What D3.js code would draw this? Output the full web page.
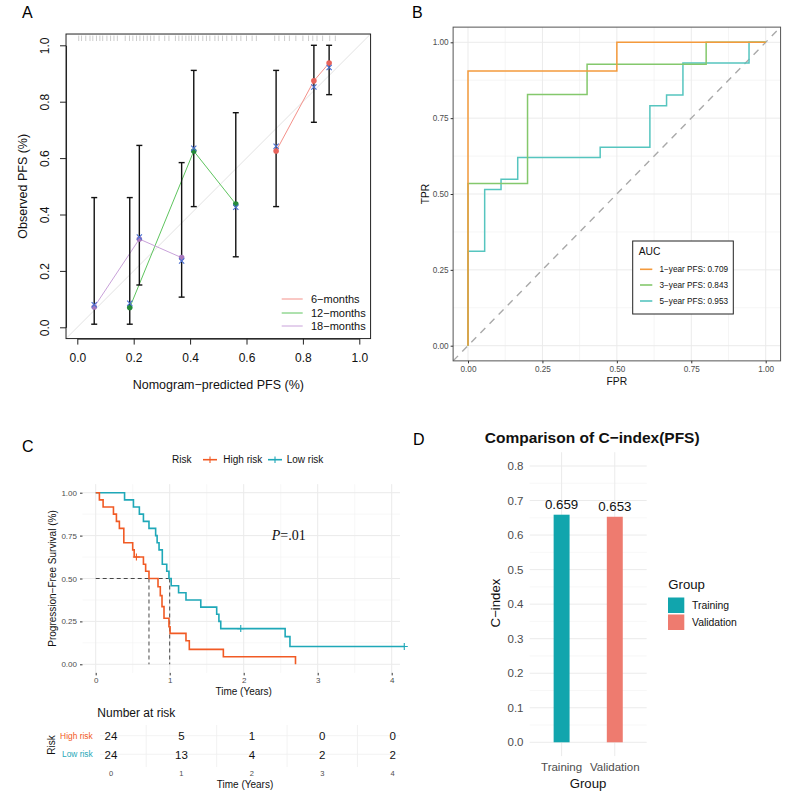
<!DOCTYPE html>
<html><head><meta charset="utf-8">
<script src="https://cdn.jsdelivr.net/npm/d3@7"></script>
<style>body{margin:0;background:#fff} svg text{font-family:"Liberation Sans",Arial,Helvetica,sans-serif} svg text.serif{font-family:"Liberation Serif","Times New Roman",serif}</style>
</head><body>
<svg id="c" width="800" height="797" xmlns="http://www.w3.org/2000/svg"></svg>
<script>
// ---------------- DATA ----------------
// Panel A: calibration
const calLabels = ["6-months", "12-months", "18-months"];
const calPred6 = [0.705, 0.839, 0.893];
const calObs6 = [0.625, 0.874, 0.937];
const calCorr6 = [0.642, 0.852, 0.921];
const calLo6 = [0.428, 0.727, 0.825];
const calHi6 = [0.911, 1.0, 1.0];
const calPred12 = [0.186, 0.413, 0.562];
const calObs12 = [0.070, 0.625, 0.437];
const calCorr12 = [0.085, 0.635, 0.426];
const calLo12 = [0.011, 0.428, 0.250];
const calHi12 = [0.460, 0.911, 0.761];
const calPred18 = [0.060, 0.220, 0.370];
const calObs18 = [0.072, 0.313, 0.247];
const calCorr18 = [0.080, 0.320, 0.235];
const calLo18 = [0.011, 0.150, 0.107];
const calHi18 = [0.460, 0.645, 0.584];
const rugPred = [0.005,0.015,0.03,0.045,0.055,0.068,0.08,0.09,0.105,0.118,0.13,0.142,0.17,0.185,0.197,0.21,0.222,0.235,0.248,0.26,0.272,0.29,0.31,0.325,0.348,0.36,0.372,0.385,0.396,0.405,0.418,0.43,0.445,0.458,0.47,0.488,0.5,0.515,0.53,0.548,0.565,0.58,0.6,0.62,0.635,0.7,0.715,0.735,0.752,0.775,0.8,0.82,0.835,0.85,0.87,0.895,0.915];
const calAxisTicks = [0, 0.2, 0.4, 0.6, 0.8, 1.0];

// Panel B: ROC
const rocLabels = ["1-year PFS: 0.709", "3-year PFS: 0.843", "5-year PFS: 0.953"];
const rocFPR1 = [0, 0, 0.5, 0.5, 1];
const rocTPR1 = [0, 0.905, 0.905, 1, 1];
const rocFPR3 = [0, 0, 0.2, 0.2, 0.4, 0.4, 0.8, 0.8, 1];
const rocTPR3 = [0, 0.535, 0.535, 0.828, 0.828, 0.928, 0.928, 1, 1];
const rocFPR5 = [0, 0, 0.056, 0.056, 0.111, 0.111, 0.167, 0.167, 0.444, 0.444, 0.611, 0.611, 0.667, 0.667, 0.722, 0.722, 0.944, 0.944, 1];
const rocTPR5 = [0, 0.311, 0.311, 0.515, 0.515, 0.549, 0.549, 0.62, 0.62, 0.654, 0.654, 0.791, 0.791, 0.826, 0.826, 0.932, 0.932, 1, 1];
const rocTicks = [0, 0.25, 0.5, 0.75, 1];

// Panel C: Kaplan-Meier
const kmHighT = [0, 0.05, 0.10, 0.24, 0.28, 0.32, 0.38, 0.50, 0.52, 0.645, 0.675, 0.72, 0.842, 0.873, 0.896, 0.923, 0.99, 1.005, 1.22, 1.265, 1.725, 2.70];
const kmHighS = [1, 0.958, 0.917, 0.875, 0.833, 0.792, 0.708, 0.667, 0.625, 0.583, 0.542, 0.5, 0.452, 0.40, 0.336, 0.268, 0.219, 0.18, 0.137, 0.087, 0.044, 0];
const kmHighCensT = [0.55];
const kmHighCensS = [0.625];
const kmLowT = [0, 0.39, 0.51, 0.59, 0.645, 0.72, 0.81, 0.83, 0.856, 0.90, 0.96, 0.99, 1.02, 1.12, 1.22, 1.42, 1.635, 1.665, 1.69, 2.56, 2.625, 4.17];
const kmLowS = [1, 0.958, 0.917, 0.875, 0.833, 0.792, 0.75, 0.708, 0.667, 0.583, 0.542, 0.5, 0.458, 0.417, 0.375, 0.333, 0.292, 0.25, 0.208, 0.161, 0.104, 0.104];
const kmLowCensT = [1.96, 4.17];
const kmLowCensS = [0.208, 0.104];
const kmMedians = [0.72, 1.0];
const kmTimeTicks = [0, 1, 2, 3, 4];
const kmSurvTicks = [0, 0.25, 0.5, 0.75, 1];
const riskGroups = ["High risk", "Low risk"];
const riskTimes = [0, 1, 2, 3, 4];
const riskHigh = [24, 5, 1, 0, 0];
const riskLow = [24, 13, 4, 2, 2];

// Panel D: C-index
const cGroups = ["Training", "Validation"];
const cIndex = [0.659, 0.653];
const cTicks = [0, 0.1, 0.2, 0.3, 0.4, 0.5, 0.6, 0.7, 0.8];

// ---------------- DRAW ----------------
const FONT = '"Liberation Sans", Arial, Helvetica, sans-serif';
const svg = d3.select("#c");
svg.append("rect").attr("width", 800).attr("height", 797).attr("fill", "#fff");

function styleAxis(g, size, color, lineColor) {
  g.attr("font-family", FONT);
  g.selectAll("text").attr("font-size", size).attr("fill", color);
  g.selectAll("line").attr("stroke", lineColor);
  g.selectAll("path").attr("stroke", lineColor);
}

// Panel labels
[["A", 22, 17.5], ["B", 412, 17.5], ["C", 22, 451.5], ["D", 413, 445]].forEach(([t, x, y]) =>
  svg.append("text").attr("x", x).attr("y", y).attr("font-size", 16).attr("fill", "#000").text(t));

// ===== Panel A =====
(function () {
  const g = svg.append("g");
  const x = d3.scaleLinear().domain([0, 1]).range([77.3, 359.3]);
  const y = d3.scaleLinear().domain([0, 1]).range([327.3, 45.3]);
  const bx0 = x(-0.04), bx1 = x(1.04), by0 = y(1.04), by1 = y(-0.04);
  svg.append("clipPath").attr("id", "clipA").append("rect")
    .attr("x", bx0).attr("y", by0).attr("width", bx1 - bx0).attr("height", by1 - by0);

  g.append("line").attr("clip-path", "url(#clipA)")
    .attr("x1", x(-0.04)).attr("y1", y(-0.04)).attr("x2", x(1.04)).attr("y2", y(1.04))
    .attr("stroke", "#e2e2e2").attr("stroke-width", 1);

  g.selectAll(".rug").data(rugPred).join("line")
    .attr("x1", d => x(d)).attr("x2", d => x(d)).attr("y1", by0 + 1.5).attr("y2", by0 + 7)
    .attr("stroke", "#aaa").attr("stroke-width", 0.6);

  const sets = [
    { p: calPred6, o: calObs6, c: calCorr6, lo: calLo6, hi: calHi6, line: "#F4918A", pt: "#E8635B" },
    { p: calPred12, o: calObs12, c: calCorr12, lo: calLo12, hi: calHi12, line: "#5EC45E", pt: "#238B3A" },
    { p: calPred18, o: calObs18, c: calCorr18, lo: calLo18, hi: calHi18, line: "#C9A2DA", pt: "#A777BD" }
  ];
  const ln = d3.line().x(d => x(d[0])).y(d => y(d[1]));
  sets.forEach(s => {
    g.append("path").attr("d", ln(s.p.map((v, i) => [v, s.o[i]])))
      .attr("fill", "none").attr("stroke", s.line).attr("stroke-width", 1);
  });
  sets.forEach(s => {
    s.p.forEach((v, i) => {
      const xx = x(v);
      g.append("line").attr("x1", xx).attr("x2", xx).attr("y1", y(s.lo[i])).attr("y2", y(s.hi[i]))
        .attr("stroke", "#111").attr("stroke-width", 1.4);
      [s.lo[i], s.hi[i]].forEach(e => g.append("line").attr("x1", xx - 3).attr("x2", xx + 3)
        .attr("y1", y(e)).attr("y2", y(e)).attr("stroke", "#111").attr("stroke-width", 1.4));
    });
  });
  sets.forEach(s => {
    s.p.forEach((v, i) => {
      g.append("circle").attr("cx", x(v)).attr("cy", y(s.o[i])).attr("r", 2.8).attr("fill", s.pt);
      const cx = x(v), cy = y(s.c[i]), r = 2.6;
      g.append("path").attr("d", `M${cx - r},${cy - r}L${cx + r},${cy + r}M${cx - r},${cy + r}L${cx + r},${cy - r}`)
        .attr("stroke", "#4A6FD1").attr("stroke-width", 1.1).attr("fill", "none");
    });
  });

  g.append("rect").attr("x", bx0).attr("y", by0).attr("width", bx1 - bx0).attr("height", by1 - by0)
    .attr("fill", "none").attr("stroke", "#222").attr("stroke-width", 1);

  g.append("g").attr("transform", `translate(0,${by1})`)
    .call(d3.axisBottom(x).tickValues(calAxisTicks).tickFormat(d3.format(".1f")).tickSize(6).tickPadding(9).tickSizeOuter(0))
    .call(a => styleAxis(a, 12, "#111", "#222"));
  g.append("g").attr("transform", `translate(${bx0},0)`)
    .call(d3.axisLeft(y).tickValues(calAxisTicks).tickFormat(d3.format(".1f")).tickSize(6).tickSizeOuter(0))
    .call(a => {
      styleAxis(a, 12, "#111", "#222");
      a.selectAll("text").attr("x", null).attr("dy", null).attr("text-anchor", "middle")
        .attr("transform", "translate(-17,0) rotate(-90)");
    });
  g.append("text").attr("x", (bx0 + bx1) / 2).attr("y", 388.5).attr("text-anchor", "middle")
    .attr("font-size", 12.5).attr("fill", "#111").text("Nomogram\u2212predicted PFS (%)");
  g.append("text").attr("transform", `translate(27,${(by0 + by1) / 2}) rotate(-90)`).attr("text-anchor", "middle")
    .attr("font-size", 12.5).attr("fill", "#111").text("Observed PFS (%)");

  const legY = [299, 313, 326];
  sets.forEach((s, i) => {
    g.append("line").attr("x1", 281.7).attr("x2", 302.7).attr("y1", legY[i]).attr("y2", legY[i])
      .attr("stroke", s.line).attr("stroke-width", 1);
    g.append("text").attr("x", 311).attr("y", legY[i] + 4).attr("font-size", 11).attr("fill", "#111")
      .text(calLabels[i].replace("-", "\u2212"));
  });
})();

// ===== Panel B =====
(function () {
  const g = svg.append("g");
  const x = d3.scaleLinear().domain([0, 1]).range([468, 765.7]);
  const y = d3.scaleLinear().domain([0, 1]).range([345.7, 42.3]);
  const px0 = x(-0.05), px1 = x(1.05), py0 = y(1.05), py1 = y(-0.05);
  svg.append("clipPath").attr("id", "clipB").append("rect")
    .attr("x", px0).attr("y", py0).attr("width", px1 - px0).attr("height", py1 - py0);
  const minor = [0.125, 0.375, 0.625, 0.875];
  minor.forEach(v => {
    g.append("line").attr("x1", x(v)).attr("x2", x(v)).attr("y1", py0).attr("y2", py1).attr("stroke", "#EEEEEE").attr("stroke-width", 0.6);
    g.append("line").attr("y1", y(v)).attr("y2", y(v)).attr("x1", px0).attr("x2", px1).attr("stroke", "#EEEEEE").attr("stroke-width", 0.6);
  });
  rocTicks.forEach(v => {
    g.append("line").attr("x1", x(v)).attr("x2", x(v)).attr("y1", py0).attr("y2", py1).attr("stroke", "#EBEBEB").attr("stroke-width", 1);
    g.append("line").attr("y1", y(v)).attr("y2", y(v)).attr("x1", px0).attr("x2", px1).attr("stroke", "#EBEBEB").attr("stroke-width", 1);
  });
  g.append("line").attr("clip-path", "url(#clipB)")
    .attr("x1", x(-0.05)).attr("y1", y(-0.05)).attr("x2", x(1.05)).attr("y2", y(1.05))
    .attr("stroke", "#A9A9A9").attr("stroke-width", 1.4).attr("stroke-dasharray", "7,6");

  const ln = d3.line().x(d => x(d[0])).y(d => y(d[1]));
  const curves = [
    { f: rocFPR5, t: rocTPR5, c: "#56C5BF" },
    { f: rocFPR3, t: rocTPR3, c: "#84C86C" },
    { f: rocFPR1, t: rocTPR1, c: "#F49A3C" }
  ];
  curves.forEach(cv => g.append("path").attr("d", ln(cv.f.map((v, i) => [v, cv.t[i]])))
    .attr("fill", "none").attr("stroke", cv.c).attr("stroke-width", 1.5));

  g.append("rect").attr("x", px0).attr("y", py0).attr("width", px1 - px0).attr("height", py1 - py0)
    .attr("fill", "none").attr("stroke", "#555").attr("stroke-width", 1);

  g.append("g").attr("transform", `translate(0,${py1})`)
    .call(d3.axisBottom(x).tickValues(rocTicks).tickFormat(d3.format(".2f")).tickSize(2.5).tickPadding(2.5).tickSizeOuter(0))
    .call(a => { styleAxis(a, 8.2, "#4D4D4D", "#333"); a.select(".domain").remove(); });
  g.append("g").attr("transform", `translate(${px0},0)`)
    .call(d3.axisLeft(y).tickValues(rocTicks).tickFormat(d3.format(".2f")).tickSize(2.5).tickPadding(2).tickSizeOuter(0))
    .call(a => { styleAxis(a, 8.2, "#4D4D4D", "#333"); a.select(".domain").remove(); });
  g.append("text").attr("x", (px0 + px1) / 2).attr("y", 384.5).attr("text-anchor", "middle")
    .attr("font-size", 10.3).attr("fill", "#111").text("FPR");
  g.append("text").attr("transform", `translate(428.5,${(py0 + py1) / 2}) rotate(-90)`).attr("text-anchor", "middle")
    .attr("font-size", 10.3).attr("fill", "#111").text("TPR");

  // legend
  g.append("rect").attr("x", 632.7).attr("y", 241).attr("width", 100.6).attr("height", 73)
    .attr("fill", "#fff").attr("stroke", "#222").attr("stroke-width", 1);
  g.append("text").attr("x", 638.7).attr("y", 255).attr("font-size", 10.3).attr("fill", "#111").text("AUC");
  const lc = ["#F49A3C", "#84C86C", "#56C5BF"], ly = [269.3, 285, 301];
  rocLabels.forEach((lab, i) => {
    g.append("line").attr("x1", 640).attr("x2", 652.3).attr("y1", ly[i]).attr("y2", ly[i]).attr("stroke", lc[i]).attr("stroke-width", 1.6);
    g.append("text").attr("x", 659.5).attr("y", ly[i] + 3).attr("font-size", 8.2).attr("fill", "#111").text(lab.replace("-", "\u2212"));
  });
})();

// ===== Panel C =====
(function () {
  const g = svg.append("g");
  const x = d3.scaleLinear().domain([0, 4]).range([95.7, 391.7]);
  const y = d3.scaleLinear().domain([0, 1]).range([664.3, 492.7]);
  const px0 = 82.5, px1 = 400, py0 = y(1.05), py1 = y(-0.05);
  const hiCol = "#F15A24", loCol = "#1FA8B8";

  [0.5, 1.5, 2.5, 3.5].forEach(v => g.append("line").attr("x1", x(v)).attr("x2", x(v)).attr("y1", py0).attr("y2", py1).attr("stroke", "#F2F2F2").attr("stroke-width", 0.6));
  [0.125, 0.375, 0.625, 0.875].forEach(v => g.append("line").attr("y1", y(v)).attr("y2", y(v)).attr("x1", px0).attr("x2", px1).attr("stroke", "#F2F2F2").attr("stroke-width", 0.6));
  kmTimeTicks.forEach(v => g.append("line").attr("x1", x(v)).attr("x2", x(v)).attr("y1", py0).attr("y2", py1).attr("stroke", "#EBEBEB").attr("stroke-width", 1));
  kmSurvTicks.forEach(v => g.append("line").attr("y1", y(v)).attr("y2", y(v)).attr("x1", px0).attr("x2", px1).attr("stroke", "#EBEBEB").attr("stroke-width", 1));

  // median lines
  g.append("line").attr("x1", x(0)).attr("x2", x(d3.max(kmMedians))).attr("y1", y(0.5)).attr("y2", y(0.5))
    .attr("stroke", "#333").attr("stroke-width", 0.9).attr("stroke-dasharray", "4,3");
  kmMedians.forEach(m => g.append("line").attr("x1", x(m)).attr("x2", x(m)).attr("y1", y(0.5)).attr("y2", y(0))
    .attr("stroke", "#333").attr("stroke-width", 0.9).attr("stroke-dasharray", "4,3"));

  const step = d3.line().x(d => x(d[0])).y(d => y(d[1])).curve(d3.curveStepAfter);
  g.append("path").attr("d", step(kmLowT.map((t, i) => [t, kmLowS[i]]))).attr("fill", "none").attr("stroke", loCol).attr("stroke-width", 1.6);
  g.append("path").attr("d", step(kmHighT.map((t, i) => [t, kmHighS[i]]))).attr("fill", "none").attr("stroke", hiCol).attr("stroke-width", 1.6);
  const cens = (ts, ss, col) => ts.forEach((t, i) => {
    const cx = x(t), cy = y(ss[i]);
    g.append("path").attr("d", `M${cx - 3.5},${cy}L${cx + 3.5},${cy}M${cx},${cy - 3.5}L${cx},${cy + 3.5}`).attr("stroke", col).attr("stroke-width", 1.1);
  });
  cens(kmHighCensT, kmHighCensS, hiCol);
  cens(kmLowCensT, kmLowCensS, loCol);

  g.append("g").attr("transform", `translate(0,${py1})`)
    .call(d3.axisBottom(x).tickValues(kmTimeTicks).tickFormat(d3.format("d")).tickSize(2.5).tickPadding(2).tickSizeOuter(0))
    .call(a => { styleAxis(a, 8, "#4D4D4D", "#333"); a.select(".domain").remove(); });
  g.append("g").attr("transform", `translate(${px0},0)`)
    .call(d3.axisLeft(y).tickValues(kmSurvTicks).tickFormat(d3.format(".2f")).tickSize(2.5).tickPadding(3).tickSizeOuter(0))
    .call(a => { styleAxis(a, 8, "#4D4D4D", "#333"); a.select(".domain").remove(); });
  g.append("text").attr("x", 243.7).attr("y", 695.3).attr("text-anchor", "middle").attr("font-size", 10).attr("fill", "#111").text("Time (Years)");
  g.append("text").attr("transform", `translate(55.5,${(py0 + py1) / 2}) rotate(-90)`).attr("text-anchor", "middle")
    .attr("font-size", 10).attr("fill", "#111").text("Progression\u2212Free Survival (%)");

  const pt = g.append("text").attr("class", "serif").attr("x", 271.7).attr("y", 540).attr("font-size", 14).attr("fill", "#111");
  pt.append("tspan").attr("font-style", "italic").text("P");
  pt.append("tspan").text("=.01");

  // legend
  g.append("text").attr("x", 172).attr("y", 463.3).attr("font-size", 10).attr("fill", "#111").text("Risk");
  [[203, 223.3, hiCol, riskGroups[0]], [268, 286.7, loCol, riskGroups[1]]].forEach(([lx, tx, col, lab]) => {
    g.append("line").attr("x1", lx).attr("x2", lx + 14).attr("y1", 459.7).attr("y2", 459.7).attr("stroke", col).attr("stroke-width", 1.6);
    g.append("line").attr("x1", lx + 7).attr("x2", lx + 7).attr("y1", 456.5).attr("y2", 462.9).attr("stroke", col).attr("stroke-width", 1.1);
    g.append("text").attr("x", tx).attr("y", 463.3).attr("font-size", 10).attr("fill", "#111").text(lab);
  });

  // risk table
  const xt = d3.scaleLinear().domain([0, 4]).range([111, 392.7]);
  const rowY = [735.7, 754.3];
  [0.5, 1.5, 2.5, 3.5].forEach(v => g.append("line").attr("x1", xt(v)).attr("x2", xt(v)).attr("y1", 725).attr("y2", 767).attr("stroke", "#EFEFEF").attr("stroke-width", 0.8));
  rowY.forEach(ry => g.append("line").attr("x1", 100).attr("x2", 400).attr("y1", ry).attr("y2", ry).attr("stroke", "#EFEFEF").attr("stroke-width", 0.8));
  g.append("text").attr("x", 97.3).attr("y", 717).attr("font-size", 12).attr("fill", "#111").text("Number at risk");
  [riskHigh, riskLow].forEach((row, r) => {
    g.append("text").attr("x", 92.7).attr("y", rowY[r] + 3).attr("text-anchor", "end").attr("font-size", 8.4)
      .attr("fill", r === 0 ? hiCol : loCol).text(riskGroups[r]);
    row.forEach((n, i) => g.append("text").attr("x", xt(riskTimes[i])).attr("y", rowY[r] + 4.2).attr("text-anchor", "middle")
      .attr("font-size", 11.5).attr("fill", "#111").text(n));
  });
  riskTimes.forEach(t => g.append("text").attr("x", xt(t)).attr("y", 776).attr("text-anchor", "middle").attr("font-size", 7.5).attr("fill", "#4D4D4D").text(t));
  g.append("text").attr("x", 245).attr("y", 787.6).attr("text-anchor", "middle").attr("font-size", 10).attr("fill", "#111").text("Time (Years)");
  g.append("text").attr("transform", "translate(55.3,745) rotate(-90)").attr("text-anchor", "middle").attr("font-size", 10).attr("fill", "#111").text("Risk");
})();

// ===== Panel D =====
(function () {
  const g = svg.append("g");
  const y = d3.scaleLinear().domain([0, 0.8]).range([742.3, 466]);
  const x = d3.scaleBand().domain(cGroups).range([529.7, 646.7]).paddingInner(0).paddingOuter(0.1);
  const px0 = 529.7, px1 = 646.7, py0 = y(0.84), py1 = y(-0.04);
  const cols = ["#11A5AD", "#EE7B6F"];

  d3.range(0.05, 0.8, 0.1).forEach(v => g.append("line").attr("x1", px0).attr("x2", px1).attr("y1", y(v)).attr("y2", y(v)).attr("stroke", "#F2F2F2").attr("stroke-width", 0.6));
  cTicks.forEach(v => g.append("line").attr("x1", px0).attr("x2", px1).attr("y1", y(v)).attr("y2", y(v)).attr("stroke", "#EBEBEB").attr("stroke-width", 1));
  cGroups.forEach(c => g.append("line").attr("x1", x(c) + x.bandwidth() / 2).attr("x2", x(c) + x.bandwidth() / 2).attr("y1", py0).attr("y2", py1).attr("stroke", "#EBEBEB").attr("stroke-width", 1));

  const bw = x.bandwidth() * 0.3;
  g.selectAll(".bar").data(cGroups).join("rect")
    .attr("x", d => x(d) + x.bandwidth() / 2 - bw / 2).attr("width", bw)
    .attr("y", (d, i) => y(cIndex[i])).attr("height", (d, i) => y(0) - y(cIndex[i]))
    .attr("fill", (d, i) => cols[i]);
  cGroups.forEach((c, i) => g.append("text").attr("x", x(c) + x.bandwidth() / 2).attr("y", y(cIndex[i]) - 5.5)
    .attr("text-anchor", "middle").attr("font-size", 13.3).attr("fill", "#111").text(cIndex[i].toFixed(3)));

  cTicks.forEach(v => g.append("text").attr("x", 523.5).attr("y", y(v) + 4).attr("text-anchor", "end")
    .attr("font-size", 11.5).attr("fill", "#4D4D4D").text(v.toFixed(1)));
  cGroups.forEach(c => g.append("text").attr("x", x(c) + x.bandwidth() / 2).attr("y", 770.8).attr("text-anchor", "middle")
    .attr("font-size", 11.5).attr("fill", "#4D4D4D").text(c));
  g.append("text").attr("x", 588).attr("y", 787.7).attr("text-anchor", "middle").attr("font-size", 13.2).attr("fill", "#111").text("Group");
  g.append("text").attr("transform", `translate(500.4,603) rotate(-90)`).attr("text-anchor", "middle").attr("font-size", 13.2).attr("fill", "#111").text("C\u2212index");
  g.append("text").attr("x", 592.2).attr("y", 442.5).attr("text-anchor", "middle").attr("font-size", 15.5).attr("font-weight", "bold").attr("fill", "#111").text("Comparison of C\u2212index(PFS)");

  g.append("text").attr("x", 668.3).attr("y", 588.7).attr("font-size", 13.2).attr("fill", "#111").text("Group");
  const ky = [597.5, 614.5];
  cGroups.forEach((c, i) => {
    g.append("rect").attr("x", 668).attr("y", ky[i]).attr("width", 16.3).attr("height", 15.5).attr("fill", cols[i]);
    g.append("text").attr("x", 692).attr("y", ky[i] + 11.5).attr("font-size", 10.4).attr("fill", "#111").text(c);
  });
})();
</script>
</body></html>
